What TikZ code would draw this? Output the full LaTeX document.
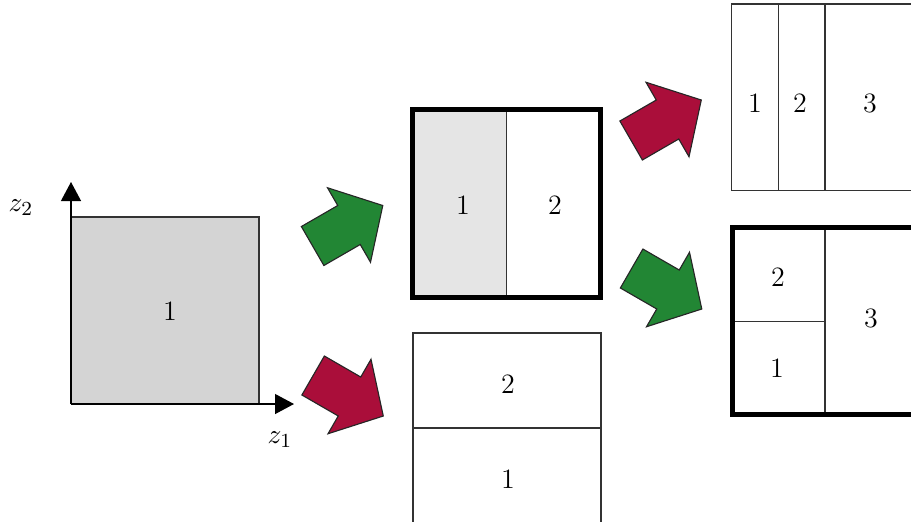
\documentclass[tikz,border=0pt]{standalone}
\usepackage{xcolor}
\definecolor{arrowgreen}{RGB}{34,134,52}
\definecolor{arrowred}{RGB}{170,14,58}
\usepackage{tikz}
\usetikzlibrary{arrows.meta, positioning}
\tikzset{
  region/.style={draw=black!80, line width=0.5pt},
  frame/.style={draw=black, line width=2pt},
  lbl/.style={font=\fontsize{11.2}{13.4}\selectfont, inner sep=0pt},
  axis/.style={line width=0.5pt, -{Triangle[length=7.6pt,width=8pt]}},
  blockarrow/.pic={
    \draw[line width=0.45pt, draw=black!85, pic actions]
      (-42,-22.5) -- (0,-22.5) -- (0,-43) -- (39,0) -- (0,43) -- (0,22.5) -- (-42,22.5) -- cycle;
  },
}

\begin{document}
\begin{tikzpicture}[x=0.4pt, y=-0.4pt]
  \useasboundingbox (0,0) rectangle (911,521);
  \clip (0,0) rectangle (911,521);

  % initial domain
  \coordinate (o) at (71,404);
  \coordinate (yend) at (71,182);
  \coordinate (xend) at (294,404);
  \fill[black!17] (o) rectangle (259,217);
  \draw[region] (71,217) -- (259,217) -- (259,404);
  \draw[axis] (o) -- (yend);
  \draw[axis] (o) -- (xend);
  \node[lbl] (z2) at (21,208) {$z_2$};
  \node[lbl] (z1) at (280,440) {$z_1$};
  \node[lbl] (s1) at (170,311) {1};

  % first split
  \fill[black!10] (412.5,109.5) rectangle (506.7,297.5);
  \draw[region] (506.7,109.5) -- (506.7,297.5);
  \draw[frame] (412.5,109.5) rectangle (600.5,297.5);
  \node[lbl] (a1) at (463,205) {1};
  \node[lbl] (a2) at (555,205) {2};

  \draw[region] (413,333) rectangle (601,523);
  \draw[region] (413,428) -- (601,428);
  \node[lbl] (b2) at (508,384) {2};
  \node[lbl] (b1) at (508,479) {1};

  % second split
  \draw[region] (731.7,4) rectangle (920,190.7);
  \draw[region] (778.3,4) -- (778.3,190.7);
  \draw[region] (825,4) -- (825,190.7);
  \node[lbl] (c1) at (755,103) {1};
  \node[lbl] (c2) at (800,103) {2};
  \node[lbl] (c3) at (870,103) {3};

  \draw[region] (825,227.5) -- (825,414);
  \draw[region] (732.5,321.7) -- (825,321.7);
  \draw[frame] (732.5,227.5) rectangle (925,414);
  \node[lbl] (d2) at (778,277) {2};
  \node[lbl] (d1) at (777,368) {1};
  \node[lbl] (d3) at (871,318) {3};

  % block arrows
  \pic[fill=arrowgreen, rotate=30]  at (349,225)   {blockarrow};
  \pic[fill=arrowred,   rotate=-30] at (349.5,396.5) {blockarrow};
  \pic[fill=arrowred,   rotate=30]  at (667.5,119.5) {blockarrow};
  \pic[fill=arrowgreen, rotate=-30] at (668,289.5) {blockarrow};
\end{tikzpicture}
\end{document}
